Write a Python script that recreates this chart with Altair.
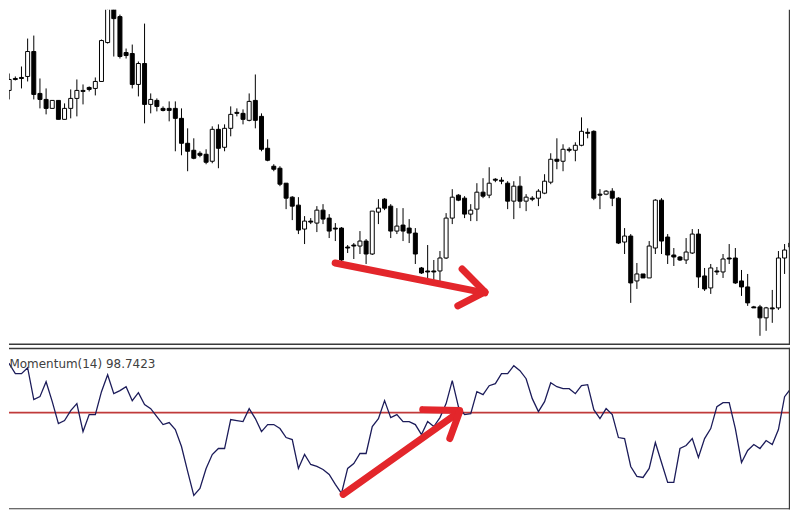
import altair as alt
import pandas as pd

# ---- candle data (price units) ----
open_ = [278, 251, 263, 264, 265, 290, 248, 242, 233, 241, 222, 233, 243, 250, 254, 253, 260, 299, 337, 325,
         289, 288, 257, 278, 237, 241, 233, 233, 233, 223, 198, 191, 188, 187, 180, 212, 194, 213, 229, 228,
         221, 241, 225, 193, 175, 173, 158, 144, 136, 112, 120, 118, 131, 123, 113, 113, 94, 96, 95, 100,
         87, 129, 142, 135, 110, 116, 113, 108, 73, 70, 70, 70, 83, 123, 146, 143, 127, 132, 149, 146,
         162, 161, 158, 140, 155, 140, 143, 143, 148, 159, 182, 180, 192, 191, 196, 209, 210, 147, 147, 150,
         143, 99, 105, 60, 67, 63, 93, 141, 104, 86, 84, 81, 88, 107, 65, 53, 70, 69, 83, 83,
         60, 54, 34, 34, 23, 33, 33, 83, 94]
high = [283, 268, 265, 275, 303, 306, 263, 253, 241, 241, 238, 252, 262, 257, 255, 264, 302, 338, 338, 327,
        293, 297, 280, 318, 248, 243, 235, 240, 240, 233, 213, 203, 190, 192, 215, 217, 217, 235, 233, 232,
        248, 267, 228, 202, 177, 175, 158, 145, 144, 125, 123, 135, 137, 127, 118, 114, 96, 98, 110, 102,
        130, 142, 143, 137, 133, 133, 122, 113, 74, 96, 81, 90, 128, 152, 147, 145, 137, 158, 163, 174,
        163, 164, 160, 160, 165, 147, 145, 152, 167, 188, 203, 197, 194, 199, 224, 213, 211, 152, 151, 153,
        144, 113, 107, 78, 67, 100, 142, 143, 107, 93, 85, 103, 112, 112, 73, 77, 74, 87, 97, 93,
        71, 67, 35, 36, 34, 51, 90, 97, 100]
low = [242, 242, 261, 253, 260, 242, 233, 227, 233, 222, 222, 223, 225, 237, 250, 246, 260, 298, 285, 283,
       283, 253, 245, 218, 228, 230, 230, 220, 190, 186, 170, 182, 184, 177, 178, 173, 190, 205, 225, 217,
       220, 213, 190, 180, 170, 155, 132, 121, 107, 97, 117, 109, 117, 103, 100, 80, 88, 82, 87, 77,
       86, 117, 131, 103, 107, 100, 98, 77, 67, 60, 60, 60, 82, 117, 140, 123, 120, 120, 143, 143,
       159, 157, 132, 122, 133, 130, 140, 135, 147, 157, 172, 170, 189, 180, 195, 203, 141, 132, 146, 135,
       97, 87, 38, 52, 63, 63, 87, 87, 77, 75, 80, 77, 87, 53, 50, 47, 66, 63, 77, 57,
       45, 35, 33, 5, 10, 18, 31, 67, 93]
close = [248, 262, 262, 263, 290, 247, 242, 233, 241, 222, 233, 243, 251, 251, 252, 260, 301, 337, 323, 285,
         286, 257, 278, 237, 242, 235, 231, 231, 223, 198, 190, 183, 186, 179, 212, 193, 213, 227, 228, 222,
         240, 221, 192, 181, 172, 157, 143, 135, 111, 120, 119, 131, 122, 110, 112, 81, 93, 95, 100, 87,
         130, 133, 133, 110, 115, 110, 108, 87, 68, 69, 69, 83, 123, 144, 141, 127, 131, 149, 145, 158,
         161, 160, 140, 155, 140, 144, 142, 150, 160, 182, 180, 192, 191, 196, 210, 208, 143, 146, 150, 143,
         98, 105, 58, 67, 63, 95, 141, 100, 86, 84, 81, 89, 107, 64, 52, 73, 69, 82, 82, 58,
         54, 38, 33, 23, 33, 32, 83, 91, 98]

# ---- Momentum(14) values ----
momentum = [102.70, 102.45, 101.95, 101.95, 102.25, 100.65, 100.80, 101.55, 100.55, 99.45,
            99.60, 100.10, 100.45, 99.05, 99.90, 99.90, 101.05, 101.90, 100.95, 101.10,
            101.30, 100.60, 101.00, 100.40, 100.20, 99.80, 99.40, 99.50, 99.15, 98.30,
            97.05, 95.85, 96.20, 97.20, 97.90, 98.20, 98.20, 99.65, 99.60, 99.55,
            100.20, 99.70, 99.05, 99.40, 99.40, 99.20, 98.75, 98.65, 97.20, 97.90,
            97.40, 97.30, 97.15, 96.90, 96.40, 95.95, 97.20, 97.45, 97.95, 97.95,
            99.30, 99.70, 100.60, 99.75, 99.90, 99.55, 99.55, 99.40, 98.90, 99.55,
            99.30, 99.75, 100.45, 101.60, 100.30, 99.90, 99.95, 101.05, 100.90, 101.35,
            101.45, 101.95, 101.95, 102.35, 102.10, 101.70, 100.70, 100.05, 100.55, 101.50,
            101.30, 101.20, 101.20, 100.95, 101.35, 101.40, 100.15, 99.70, 100.20, 99.90,
            98.75, 98.70, 97.30, 96.80, 96.75, 97.20, 98.50, 97.50, 96.50, 96.50,
            98.20, 98.35, 98.70, 97.75, 98.70, 99.20, 100.30, 100.50, 100.50, 99.20,
            97.50, 98.10, 98.40, 98.20, 98.60, 98.40, 99.15, 100.80, 101.20]

label_text = "Momentum(14) 98.7423"
level = 100

# ---- red annotation arrows (bar index, value) ----
arrow_top_x = [53.97, 74.6, 78.3]
arrow_top_y = [78, 72, 49]
arrow_top_x2 = [78.3, 78.3, 73.9]
arrow_top_y2 = [48, 49, 35]

arrow_bot_x = [55.27, 68.2, 74.2]
arrow_bot_y = [95.9, 100.15, 100.05]
arrow_bot_x2 = [74.2, 74.2, 72.6]
arrow_bot_y2 = [100.05, 100.1, 98.7]

n = len(open_)
df = pd.DataFrame({"i": list(range(n)), "open": open_, "high": high, "low": low, "close": close})
df["dir"] = ["up" if c > o else "down" for o, c in zip(open_, close)]
mdf = pd.DataFrame({"i": list(range(len(momentum))), "m": momentum})

W = 783
TOP_H = 338
BOT_H = 162

xs = alt.Scale(domain=[0.972, 127.88], nice=False, zero=False, padding=0)
ys = alt.Scale(domain=[-6, 332], nice=False, zero=False, padding=0)
ms = alt.Scale(domain=[95.15, 103.25], nice=False, zero=False, padding=0)

X = alt.X("i:Q", scale=xs, axis=None)

wicks = alt.Chart(df).mark_rule(color="black", strokeWidth=1, clip=True).encode(
    x=X, y=alt.Y("low:Q", scale=ys, axis=None), y2="high:Q")
bodies = alt.Chart(df).mark_bar(size=4, stroke="black", strokeWidth=1, clip=True).encode(
    x=X, y=alt.Y("open:Q", scale=ys, axis=None), y2="close:Q",
    color=alt.Color("dir:N", scale=alt.Scale(domain=["up", "down"], range=["white", "black"]), legend=None))

adf_top = pd.DataFrame({"x": arrow_top_x, "y": arrow_top_y, "x2": arrow_top_x2, "y2": arrow_top_y2})
arrow_top = alt.Chart(adf_top).mark_rule(color="#e3262b", strokeWidth=7, strokeCap="round", clip=True).encode(
    x=alt.X("x:Q", scale=xs, axis=None), x2="x2:Q",
    y=alt.Y("y:Q", scale=ys, axis=None), y2="y2:Q")

dummy = pd.DataFrame({"a": [0]})
frame_col = "#3a3a3a"
top_bottom_line = alt.Chart(dummy).mark_rule(color=frame_col, strokeWidth=1.5).encode(
    x=alt.value(0), x2=alt.value(W), y=alt.value(TOP_H - 2.5))
top_right_line = alt.Chart(dummy).mark_rule(color=frame_col, strokeWidth=1.2).encode(
    x=alt.value(W - 0.6), y=alt.value(0), y2=alt.value(TOP_H - 2.5))

top = alt.layer(wicks, bodies, arrow_top, top_bottom_line, top_right_line).properties(width=W, height=TOP_H)

level_line = alt.Chart(pd.DataFrame({"lv": [level]})).mark_rule(color="#c03a3a", strokeWidth=1.6).encode(
    y=alt.Y("lv:Q", scale=ms, axis=None), x=alt.value(0), x2=alt.value(W))
mline = alt.Chart(mdf).mark_line(color="#1c1c5a", strokeWidth=1.3, clip=True).encode(
    x=X, y=alt.Y("m:Q", scale=ms, axis=None))
adf_bot = pd.DataFrame({"x": arrow_bot_x, "y": arrow_bot_y, "x2": arrow_bot_x2, "y2": arrow_bot_y2})
arrow_bot = alt.Chart(adf_bot).mark_rule(color="#e3262b", strokeWidth=7, strokeCap="round", clip=True).encode(
    x=alt.X("x:Q", scale=xs, axis=None), x2="x2:Q",
    y=alt.Y("y:Q", scale=ms, axis=None), y2="y2:Q")
label = alt.Chart(pd.DataFrame({"t": [label_text]})).mark_text(
    align="left", baseline="alphabetic", font="DejaVu Sans", fontSize=12, color="#404040").encode(
    text="t:N", x=alt.value(0.5), y=alt.value(20))
bot_top_line = alt.Chart(dummy).mark_rule(color=frame_col, strokeWidth=1.5).encode(
    x=alt.value(0), x2=alt.value(W), y=alt.value(0.75))
bot_bottom_line = alt.Chart(dummy).mark_rule(color=frame_col, strokeWidth=1.2).encode(
    x=alt.value(0), x2=alt.value(W), y=alt.value(BOT_H - 0.6))
bot_right_line = alt.Chart(dummy).mark_rule(color=frame_col, strokeWidth=1.2).encode(
    x=alt.value(W - 0.6), y=alt.value(0), y2=alt.value(BOT_H))

bottom = alt.layer(level_line, mline, arrow_bot, label, bot_top_line, bot_bottom_line, bot_right_line).properties(
    width=W, height=BOT_H)

chart = alt.vconcat(top, bottom, spacing=0).properties(
    padding=0, background="white").configure_view(stroke=None).resolve_scale(x="independent")

chart.save("out.html", embed_options={"renderer": "svg", "actions": False})
